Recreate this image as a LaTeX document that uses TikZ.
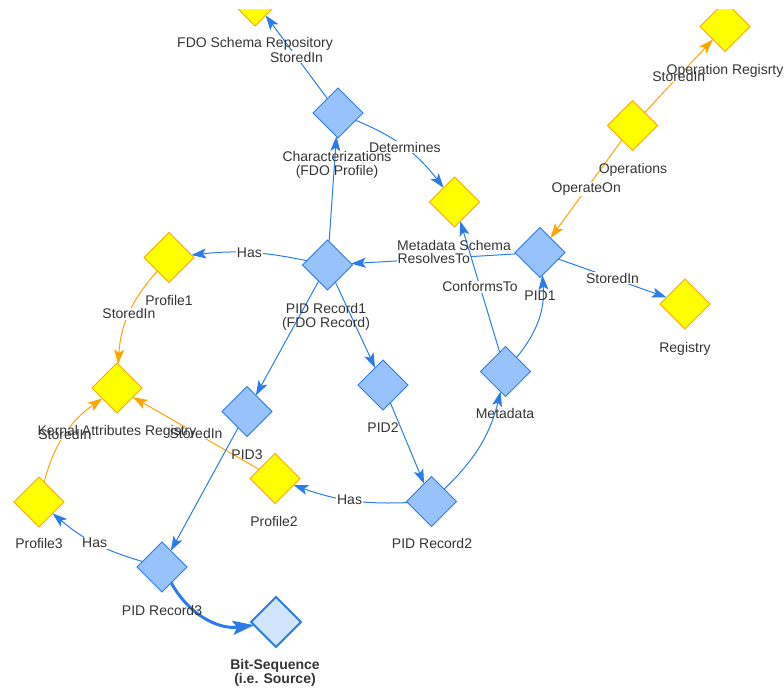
\documentclass[tikz,border=0pt]{standalone}
\usepackage{fontspec}
\setmainfont{Liberation Sans}
\usetikzlibrary{shapes.geometric,arrows.meta,calc}
\definecolor{nblue}{HTML}{97C2FC}
\definecolor{bblue}{HTML}{2B7CE9}
\definecolor{nyel}{HTML}{FFFF00}
\definecolor{borange}{HTML}{FFA500}
\definecolor{lblue}{HTML}{D2E5FF}
\definecolor{txt}{HTML}{343434}
\pgfdeclarelayer{bg}
\pgfdeclarelayer{fg}
\pgfsetlayers{bg,main,fg}
\begin{document}
\begin{tikzpicture}[x=0.75pt,y=0.75pt,
  dia/.style={diamond, minimum width=37.5pt, minimum height=37.5pt, inner sep=0pt, outer sep=0pt, line width=0.75pt},
  bnode/.style={dia, fill=nblue, draw=bblue},
  ynode/.style={dia, fill=nyel, draw=borange},
  snode/.style={dia, fill=lblue, draw=bblue, line width=1.5pt},
  nlabel/.style={font=\fontsize{10.5}{10.5}\selectfont, text=txt, align=center, inner sep=0pt},
  elabel/.style={font=\fontsize{10.5}{10.5}\selectfont, text=txt, fill=white, inner sep=0.6pt},
  bedge/.style={draw=bblue, line width=0.75pt, -{Stealth[length=11pt,width=7.5pt,inset=2.5pt]}},
  oedge/.style={draw=borange, line width=0.75pt, -{Stealth[length=11pt,width=7.5pt,inset=2.5pt]}},
  tedge/.style={draw=bblue, line width=2.25pt, -{Stealth[length=16pt,width=10.5pt,inset=3pt]}},
]
\useasboundingbox (0,0) rectangle (784,-689);

% nodes
\node[ynode] (fdo) at (255,-1) {};
\node[bnode] (char) at (338,-113) {};
\node[ynode] (ms) at (454.5,-202) {};
\node[ynode] (opreg) at (725,-26.5) {};
\node[ynode] (ops) at (632.5,-125.5) {};
\node[bnode] (pid1) at (540,-252.5) {};
\node[ynode] (reg) at (685,-304) {};
\node[bnode] (pidr1) at (327.5,-265) {};
\node[ynode] (prof1) at (169,-257.5) {};
\node[ynode] (kar) at (117,-388) {};
\node[bnode] (pid3) at (247,-411.5) {};
\node[ynode] (prof2) at (275,-478.5) {};
\node[ynode] (prof3) at (39,-502) {};
\node[bnode] (pid2) at (383,-385) {};
\node[bnode] (meta) at (505.5,-371.5) {};
\node[bnode] (pidr2) at (431.5,-501.5) {};
\node[bnode] (pidr3) at (162,-567) {};
\node[snode] (bits) at (276,-622) {};

% node labels
\node[nlabel, anchor=base] (l-fdo) at (255,-47) {FDO Schema Repository};
\node[nlabel] (l-char) at (337,-164.4) {Characterizations\\(FDO Profile)};
\node[nlabel, anchor=base] (l-ms) at (454,-250) {Metadata Schema};
\node[nlabel, anchor=base] (l-opreg) at (725,-74) {Operation Regisrty};
\node[nlabel, anchor=base] (l-ops) at (633,-173) {Operations};
\node[nlabel, anchor=base] (l-pid1) at (540,-300) {PID1};
\node[nlabel, anchor=base] (l-reg) at (685,-352) {Registry};
\node[nlabel] (l-pidr1) at (326,-316.4) {PID Record1\\(FDO Record)};
\node[nlabel, anchor=base] (l-prof1) at (169,-305) {Profile1};
\node[nlabel, anchor=base] (l-kar) at (117,-435) {Kernal Attributes Registry};
\node[nlabel, anchor=base] (l-pid3) at (247,-459) {PID3};
\node[nlabel, anchor=base] (l-prof2) at (274,-526) {Profile2};
\node[nlabel, anchor=base] (l-prof3) at (39,-548) {Profile3};
\node[nlabel, anchor=base] (l-pid2) at (383,-432) {PID2};
\node[nlabel, anchor=base] (l-meta) at (505,-418) {Metadata};
\node[nlabel, anchor=base] (l-pidr2) at (432,-548) {PID Record2};
\node[nlabel, anchor=base] (l-pidr3) at (162,-615) {PID Record3};
\node[nlabel, font=\fontsize{10.5}{10.5}\selectfont\bfseries] (l-bits) at (275,-672.4) {Bit-Sequence\\(i.e. Source)};

% edges
\begin{pgfonlayer}{bg}
\draw[bedge] (char) -- node[elabel] (e1) {StoredIn} (fdo);
\draw[bedge] (char) to[bend left=15] node[elabel] (e2) {Determines} (ms);
\draw[bedge] (pidr1) -- (char);
\draw[oedge] (ops) -- node[elabel] (e3) {StoredIn} (opreg);
\draw[oedge] (ops) -- node[elabel] (e4) {OperateOn} (pid1);
\draw[bedge] (pid1) -- node[elabel] (e5) {ResolvesTo} (pidr1);
\draw[bedge] (pid1) -- node[elabel] (e6) {StoredIn} (reg);
\draw[bedge] (pidr1) to[bend right=9] node[elabel] (e7) {Has} (prof1);
\draw[oedge] (prof1) to[bend right=19] node[elabel] (e8) {StoredIn} (kar);
\draw[bedge] (pidr1) -- (pid3);
\draw[bedge] (pidr1) -- (pid2);
\draw[bedge] (meta) -- node[elabel] (e9) {ConformsTo} (ms);
\draw[bedge] (meta) to[bend right=22] (pid1);
\draw[bedge] (pid2) -- (pidr2);
\draw[bedge] (pidr2) to[bend right=16] (meta);
\draw[bedge] (pidr2) to[bend left=11] node[elabel] (e10) {Has} (prof2);
\draw[oedge] (prof2) -- node[elabel] (e11) {StoredIn} (kar);
\draw[oedge] (prof3) to[bend left=20] node[elabel] (e12) {StoredIn} (kar);
\draw[bedge] (pidr3) to[bend left=12] node[elabel] (e13) {Has} (prof3);
\draw[bedge] (pid3) -- (pidr3);
\draw[tedge] (pidr3) to[bend right=34] (bits);
\end{pgfonlayer}

\begin{pgfonlayer}{fg}
\fill[white] (0,0) rectangle (784,-8.5);
\end{pgfonlayer}
\end{tikzpicture}
\end{document}
